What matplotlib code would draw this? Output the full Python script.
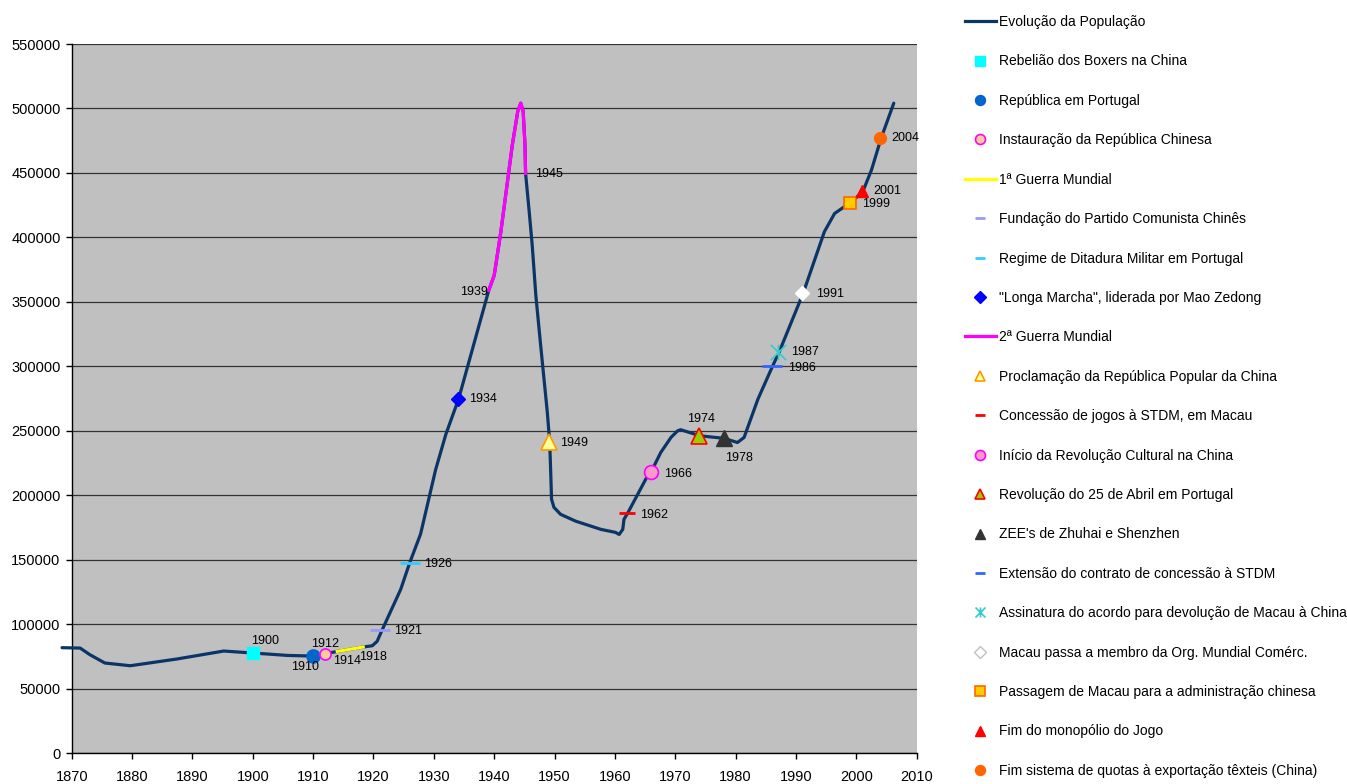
import matplotlib
matplotlib.use("Agg")
import matplotlib.pyplot as plt
from matplotlib.lines import Line2D
from matplotlib.path import Path

plt.rcParams["font.family"] = ["Liberation Sans", "DejaVu Sans"]

# ------------------------------------------------------------
# Data
# ------------------------------------------------------------

pop_years = [
    1868.4, 1871.4, 1873.0, 1875.5, 1879.7, 1887.4, 1895.2, 1900.0, 1902.4,
    1905.7, 1910.0, 1912.0, 1914.0, 1918.3, 1919.8, 1920.6, 1921.4, 1924.5,
    1926.0, 1927.8, 1930.3, 1932.0, 1934.1, 1939.1, 1940.0, 1941.1, 1943.0,
    1943.9, 1944.4, 1944.8, 1945.1, 1945.2, 1945.8, 1946.3, 1946.9, 1947.7,
    1948.8, 1949.2, 1949.4, 1949.5, 1949.9, 1951.0, 1953.5, 1957.7, 1960.1,
    1960.7, 1961.3, 1961.5, 1962.1, 1965.4, 1966.0, 1967.6, 1969.3, 1970.4,
    1970.9, 1974.1, 1978.1, 1980.3, 1981.4, 1983.7, 1986.1, 1987.2, 1991.2,
    1994.7, 1996.4, 1998.0, 1999.0, 2001.1, 2002.5, 2004.1, 2006.2,
]
pop_values = [
    81900, 81600, 76500, 70000, 67900, 73100, 79300, 77750, 77000,
    75900, 75400, 77200, 79000, 82400, 83400, 86800, 95300, 127000,
    147700, 170000, 220000, 247500, 274700, 359000, 370600, 404300, 471700,
    497700, 504100, 497700, 471700, 449700, 419900, 393900, 355000, 316200,
    264400, 241000, 212500, 197000, 190700, 185300, 180000, 173600, 171300,
    169700, 173600, 181400, 186100, 215100, 218200, 233300, 245000, 250100,
    250900, 246200, 244200, 241000, 244900, 274700, 300000, 311000, 356900,
    404400, 418600, 423800, 426400, 435900, 452200, 476900, 504100,
]

wwi_span = (1914.0, 1918.3)
wwii_span = (1939.1, 1945.2)

event_years = [1900, 1910, 1912, 1921, 1926, 1934, 1949, 1962, 1966,
               1974, 1978, 1986, 1987, 1991, 1999, 2001, 2004]
event_values = [77750, 75400, 77200, 95300, 147700, 274700, 241000, 186100,
                218200, 246200, 244200, 300000, 311000, 356900, 426400,
                435900, 476900]

series_names = [
    "Evolução da População",
    "Rebelião dos Boxers na China",
    "República em Portugal",
    "Instauração da República Chinesa",
    "1ª Guerra Mundial",
    "Fundação do Partido Comunista Chinês",
    "Regime de Ditadura Militar em Portugal",
    "\"Longa Marcha\", liderada por Mao Zedong",
    "2ª Guerra Mundial",
    "Proclamação da República Popular da China",
    "Concessão de jogos à STDM, em Macau",
    "Início da Revolução Cultural na China",
    "Revolução do 25 de Abril em Portugal",
    "ZEE's de Zhuhai e Shenzhen",
    "Extensão do contrato de concessão à STDM",
    "Assinatura do acordo para devolução de Macau à China",
    "Macau passa a membro da Org. Mundial Comérc.",
    "Passagem de Macau para a administração chinesa",
    "Fim do monopólio do Jogo",
    "Fim sistema de quotas à exportação têxteis (China)",
]

x_ticks = list(range(1870, 2011, 10))
y_ticks = list(range(0, 550001, 50000))

# ------------------------------------------------------------
# Styles
# ------------------------------------------------------------

NAVY = "#0b3566"

ASTERISK = Path(
    [(-1, -1), (1, 1), (-1, 1), (1, -1), (0, -1), (0, 1)],
    [Path.MOVETO, Path.LINETO, Path.MOVETO, Path.LINETO, Path.MOVETO, Path.LINETO],
)

# marker style, marker size, label offset (px), label alignment
event_styles = [
    (dict(marker="s", mfc="#00ffff", mec="#00ffff"), 9, (-2, 12), "left"),
    (dict(marker="o", mfc="#0066cc", mec="#0066cc"), 9.5, (6, -11), "right"),
    (dict(marker="o", mfc="#ffcc99", mec="#ff00ff", mew=1.2), 8, (0, 10), "center"),
    (dict(marker="_", mfc="#9999ff", mec="#9999ff", mew=2), 14, (15, -1), "left"),
    (dict(marker="_", mfc="#33ccff", mec="#33ccff", mew=2), 14, (14, -1), "left"),
    (dict(marker="D", mfc="#0000ff", mec="#0000ff"), 7, (11, 0), "left"),
    (dict(marker="^", mfc="#ffff99", mec="#ff9900", mew=1.2), 11, (12, -1), "left"),
    (dict(marker="_", mfc="#ff0000", mec="#ff0000", mew=2), 11, (13, -2), "left"),
    (dict(marker="o", mfc="#ff99cc", mec="#ff00ff", mew=1.2), 10, (13, -2), "left"),
    (dict(marker="^", mfc="#99cc00", mec="#ff0000", mew=1.2), 11, (2, 17), "center"),
    (dict(marker="^", mfc="#333333", mec="#333333"), 11, (2, -20), "left"),
    (dict(marker="_", mfc="#3366ff", mec="#3366ff", mew=2), 14, (16, -2), "left"),
    (dict(marker=ASTERISK, mfc="none", mec="#33cccc", mew=1.2), 11, (13, 0), "left"),
    (dict(marker="D", mfc="#ffffff", mec="#ffffff"), 7, (14, -1), "left"),
    (dict(marker="s", mfc="#ffcc00", mec="#ff6600", mew=1.2), 8.5, (12, -1), "left"),
    (dict(marker="^", mfc="#ff0000", mec="#ff0000"), 9, (11, 0), "left"),
    (dict(marker="o", mfc="#ff6600", mec="#ff6600"), 8.5, (11, 0), "left"),
]

# ------------------------------------------------------------
# Figure
# ------------------------------------------------------------

fig = plt.figure(figsize=(13.47, 7.84), dpi=100)
ax = fig.add_axes([71.7 / 1347, 1 - 753.3 / 784, (916.7 - 71.7) / 1347, (753.3 - 44) / 784])
ax.set_facecolor("#c0c0c0")

ax.set_xlim(1870, 2010)
ax.set_ylim(0, 550000)
ax.set_xticks(x_ticks)
ax.set_yticks(y_ticks)
ax.tick_params(axis="both", direction="out", length=4, width=1, labelsize=10.5, colors="black")
ax.tick_params(axis="x", pad=8)
ax.tick_params(axis="y", pad=4)
ax.yaxis.grid(True, color="#333333", linewidth=0.9)
ax.set_axisbelow(True)
for side in ("top", "right"):
    ax.spines[side].set_visible(False)
for side in ("left", "bottom"):
    ax.spines[side].set_linewidth(1)

# main population curve
pop_line, = ax.plot(pop_years, pop_values, color=NAVY, lw=2.3, clip_on=False,
                    solid_capstyle="round", solid_joinstyle="round", zorder=3)


def span_part(span):
    xs, ys = [], []
    for x, y in zip(pop_years, pop_values):
        if span[0] <= x <= span[1]:
            xs.append(x)
            ys.append(y)
    return xs, ys


wwi_x, wwi_y = span_part(wwi_span)
wwi_line, = ax.plot(wwi_x, wwi_y, color="#ffff00", lw=2.3, zorder=4)
wwii_x, wwii_y = span_part(wwii_span)
wwii_line, = ax.plot(wwii_x, wwii_y, color="#ff00ff", lw=2.3, zorder=4,
                     solid_joinstyle="round")

event_handles = []
for yr, val, (style, size, offset, ha) in zip(event_years, event_values, event_styles):
    ax.plot([yr], [val], linestyle="none", ms=size, zorder=5, **style)
    ax.annotate(str(yr), (yr, val), xytext=offset, textcoords="offset pixels",
                ha=ha, va="center", fontsize=9, color="black", zorder=6)
    leg_style = dict(style)
    if leg_style["marker"] == "D" and leg_style["mfc"] == "#ffffff":
        leg_style["mec"] = "#c0c0c0"
    event_handles.append(Line2D([], [], linestyle="none", ms=min(size, 8) * 0.9, **leg_style))

# war period labels
ax.annotate("1914", (wwi_span[0], 79000), xytext=(-4, -10), textcoords="offset pixels",
            ha="left", va="center", fontsize=9)
ax.annotate("1918", (wwi_span[1], 82400), xytext=(-4, -10), textcoords="offset pixels",
            ha="left", va="center", fontsize=9)
ax.annotate("1939", (wwii_span[0], 359000), xytext=(-1, -2), textcoords="offset pixels",
            ha="right", va="center", fontsize=9)
ax.annotate("1945", (wwii_span[1], 449700), xytext=(9, -1), textcoords="offset pixels",
            ha="left", va="center", fontsize=9)

# ------------------------------------------------------------
# Legend
# ------------------------------------------------------------

handles = [Line2D([], [], color=NAVY, lw=2.3)]
handles += event_handles[0:3]
handles.append(Line2D([], [], color="#ffff00", lw=2.3))
handles += event_handles[3:6]
handles.append(Line2D([], [], color="#ff00ff", lw=2.3))
handles += event_handles[6:]

fig.legend(handles, series_names, loc="upper left", bbox_to_anchor=(965 / 1347, 1 - 15 / 784),
           frameon=False, fontsize=10, handlelength=2.2, handletextpad=0.25,
           labelspacing=1.83, borderpad=0, borderaxespad=0)

fig.savefig("out.png", dpi=100)
